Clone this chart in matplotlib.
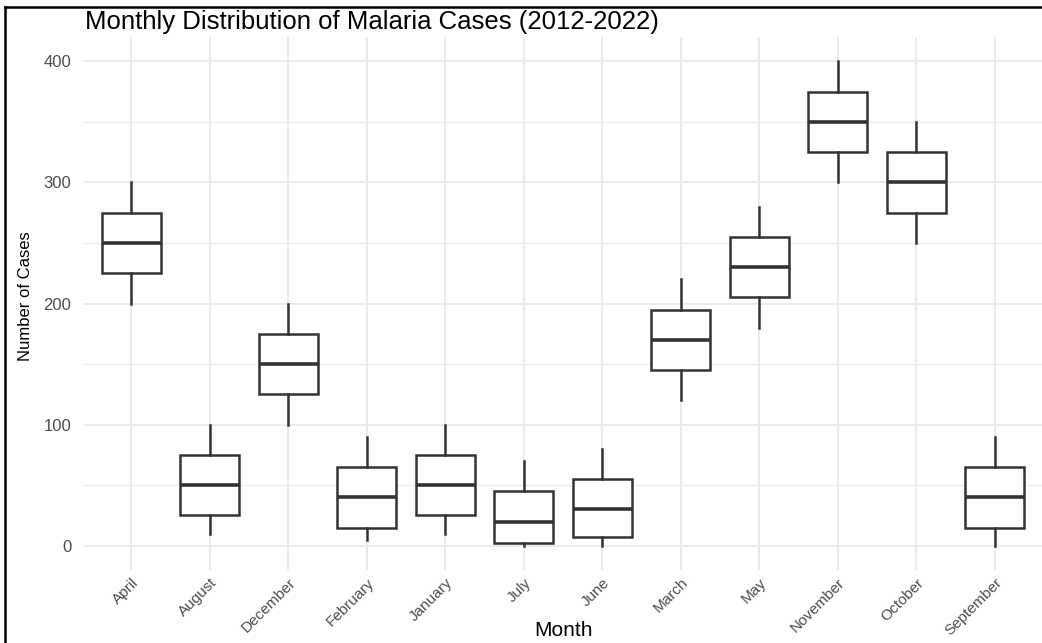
import matplotlib
matplotlib.use("Agg")
import matplotlib.pyplot as plt
from matplotlib.lines import Line2D
from matplotlib.ticker import MultipleLocator

# Months in alphabetical order (as a factor would sort them)
months = ["April", "August", "December", "February", "January", "July",
          "June", "March", "May", "November", "October", "September"]

# Five-number summaries of monthly malaria cases, 2012-2022
whisker_low = [200, 10, 100, 5, 10, 0, 0, 120, 180, 300, 250, 0]
q1 = [225, 25, 125, 15, 25, 2.5, 7.5, 145, 205, 325, 275, 15]
median = [250, 50, 150, 40, 50, 20, 30, 170, 230, 350, 300, 40]
q3 = [275, 75, 175, 65, 75, 45, 55, 195, 255, 375, 325, 65]
whisker_high = [300, 100, 200, 90, 100, 70, 80, 220, 280, 400, 350, 90]

W, H = 1042, 643
fig = plt.figure(figsize=(W / 100, H / 100), dpi=100)
fig.patch.set_facecolor("white")

left, right, top, bottom = 84, 1042, 37, 570
ax = fig.add_axes([left / W, 1 - bottom / H, (right - left) / W, (bottom - top) / H])
ax.set_facecolor("white")

stats = []
for m, lo, a, md, b, hi in zip(months, whisker_low, q1, median, q3, whisker_high):
    stats.append(dict(label=m, whislo=lo, q1=a, med=md, q3=b, whishi=hi, fliers=[]))

box_col = "#333333"
positions = list(range(1, len(months) + 1))
ax.bxp(stats, positions=positions, widths=0.75, showcaps=False, showfliers=False,
       patch_artist=True,
       boxprops=dict(facecolor="white", edgecolor=box_col, linewidth=1.8),
       whiskerprops=dict(color=box_col, linewidth=1.8),
       medianprops=dict(color=box_col, linewidth=2.6, solid_capstyle="butt"),
       zorder=3)

ax.set_xlim(0.4, len(months) + 0.6)
ax.set_ylim(-20, 420)
ax.set_xticks(positions)
ax.set_xticklabels(months)
ax.yaxis.set_major_locator(MultipleLocator(100))
ax.yaxis.set_minor_locator(MultipleLocator(50))

grid_col = "#EBEBEB"
ax.grid(True, which="major", axis="both", color=grid_col, linewidth=1.4, zorder=0)
ax.grid(True, which="minor", axis="y", color=grid_col, linewidth=1.0, zorder=0)
ax.set_axisbelow(True)
for s in ax.spines.values():
    s.set_visible(False)

tick_col = "#4D4D4D"
ax.tick_params(axis="both", which="both", length=0)
ax.tick_params(axis="y", pad=9, labelsize=12, labelcolor=tick_col)
ax.tick_params(axis="x", pad=4, labelsize=11, labelcolor=tick_col)
for lab in ax.get_yticklabels():
    lab.set_fontfamily(["Liberation Sans", "DejaVu Sans"])
for lab in ax.get_xticklabels():
    lab.set_fontfamily(["Liberation Sans", "DejaVu Sans"])
    lab.set_rotation(45)
    lab.set_rotation_mode("anchor")
    lab.set_ha("right")
    lab.set_va("top")

fig.text(85 / W, 1 - 29 / H, "Monthly Distribution of Malaria Cases (2012-2022)",
         ha="left", va="baseline", fontsize=18.5, color="black",
         family=["Liberation Sans", "DejaVu Sans"])
fig.text(563 / W, 1 - 630 / H, "Month", ha="center", va="center",
         fontsize=15, color="black", family=["Liberation Sans", "DejaVu Sans"])
fig.text(26 / W, 1 - 296 / H, "Number of Cases", ha="center", va="center",
         rotation=90, fontsize=12, color="black",
         family=["Liberation Sans Narrow", "Liberation Sans", "DejaVu Sans"])

# Frame lines along the top and left edges
fig.add_artist(Line2D([5 / W, 1], [1 - 7 / H, 1 - 7 / H], transform=fig.transFigure,
                      color="black", linewidth=1.8))
fig.add_artist(Line2D([5 / W, 5 / W], [0, 1 - 7 / H], transform=fig.transFigure,
                      color="black", linewidth=1.8))

fig.savefig("out.png", dpi=100, facecolor="white")
